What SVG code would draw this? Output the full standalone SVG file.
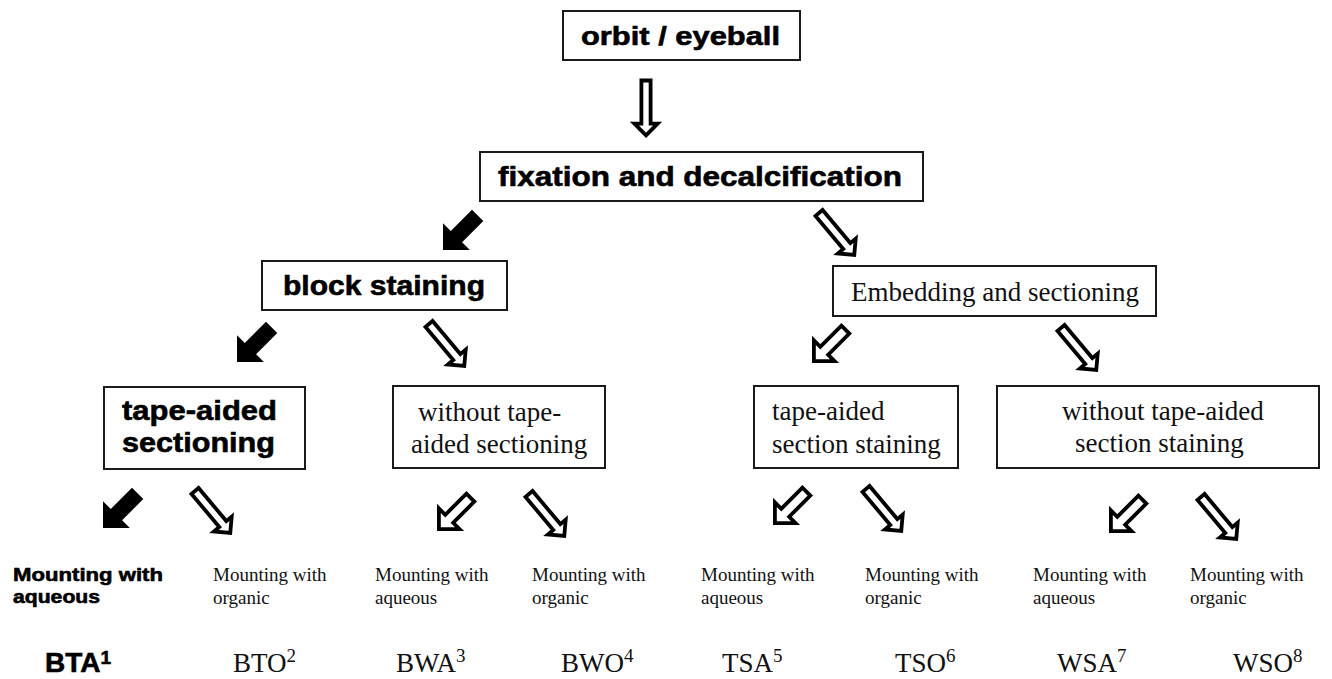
<svg xmlns="http://www.w3.org/2000/svg" xmlns:xlink="http://www.w3.org/1999/xlink" width="1332" height="679" viewBox="0 0 1332 679">
<style>
.box{fill:#fff;stroke:#1a1a1a;stroke-width:2}
.b{font-family:"Liberation Sans",Arial,sans-serif;font-weight:bold;fill:#000;stroke:#000;stroke-width:0.6}
.s{font-family:"Liberation Serif","Times New Roman",serif;fill:#111}
.ao{fill:#fff;stroke:#000;stroke-width:3.8;stroke-linejoin:miter}
.af{fill:#000}
</style>
<defs>
<polygon id="arrLong" class="ao" points="0,-2.7 11.6,-14.3 4.6,-14.3 4.6,-57.5 -4.6,-57.5 -4.6,-14.3 -11.6,-14.3"/>
<polygon id="arrStub" class="ao" points="0,-2.7 14.6,-17.3 5.6,-17.3 5.6,-47.2 -5.6,-47.2 -5.6,-17.3 -14.6,-17.3"/>
<polygon id="arrBlack" class="af" points="0,0 19,-19 8,-19 8,-49 -8,-49 -8,-19 -19,-19"/>
</defs>
<rect width="1332" height="679" fill="#fff"/>
<g id="connectors">
<use xlink:href="#arrLong" href="#arrLong" transform="translate(646,138)"/>
<use xlink:href="#arrBlack" href="#arrBlack" transform="translate(443,250) rotate(45)"/>
<use xlink:href="#arrLong" href="#arrLong" transform="translate(856,257) rotate(-40)"/>
<use xlink:href="#arrBlack" href="#arrBlack" transform="translate(237,362) rotate(45)"/>
<use xlink:href="#arrLong" href="#arrLong" transform="translate(466,368) rotate(-40)"/>
<use xlink:href="#arrStub" href="#arrStub" transform="translate(812,363) rotate(45)"/>
<use xlink:href="#arrLong" href="#arrLong" transform="translate(1098,372) rotate(-40)"/>
<use xlink:href="#arrBlack" href="#arrBlack" transform="translate(103,528) rotate(45)"/>
<use xlink:href="#arrLong" href="#arrLong" transform="translate(232,535) rotate(-40)"/>
<use xlink:href="#arrStub" href="#arrStub" transform="translate(437,531) rotate(45)"/>
<use xlink:href="#arrLong" href="#arrLong" transform="translate(566,538) rotate(-40)"/>
<use xlink:href="#arrStub" href="#arrStub" transform="translate(773,525) rotate(45)"/>
<use xlink:href="#arrLong" href="#arrLong" transform="translate(903,533) rotate(-40)"/>
<use xlink:href="#arrStub" href="#arrStub" transform="translate(1109,533) rotate(45)"/>
<use xlink:href="#arrLong" href="#arrLong" transform="translate(1238,541) rotate(-40)"/>
</g>
<g id="orbit">
<rect class="box" x="563" y="11" width="237" height="49"/>
<text class="b" x="581" y="45" font-size="26" textLength="199" lengthAdjust="spacingAndGlyphs">orbit / eyeball</text>
</g>
<g id="fixation">
<rect class="box" x="480" y="152" width="443" height="49"/>
<text class="b" x="498" y="186" font-size="27" textLength="404" lengthAdjust="spacingAndGlyphs">fixation and decalcification</text>
</g>
<g id="block-staining">
<rect class="box" x="262" y="261" width="245" height="49"/>
<text class="b" x="283" y="295" font-size="27" textLength="202" lengthAdjust="spacingAndGlyphs">block staining</text>
</g>
<g id="embedding">
<rect class="box" x="833" y="266" width="323" height="50"/>
<text class="s" x="851" y="301" font-size="27">Embedding and sectioning</text>
</g>
<g id="tape-aided-sectioning">
<rect class="box" x="104" y="387" width="201" height="82"/>
<text class="b" x="122" y="420" font-size="28" textLength="155" lengthAdjust="spacingAndGlyphs">tape-aided</text>
<text class="b" x="122" y="452" font-size="28" textLength="153" lengthAdjust="spacingAndGlyphs">sectioning</text>
</g>
<g id="without-tape-aided-sectioning">
<rect class="box" x="393" y="386" width="212" height="82"/>
<text class="s" x="418" y="421" font-size="27">without tape-</text>
<text class="s" x="411" y="453" font-size="27">aided sectioning</text>
</g>
<g id="tape-aided-section-staining">
<rect class="box" x="754" y="386" width="204" height="82"/>
<text class="s" x="772" y="420" font-size="27">tape-aided</text>
<text class="s" x="772" y="453" font-size="27">section staining</text>
</g>
<g id="without-tape-aided-section-staining">
<rect class="box" x="997" y="386" width="322" height="82"/>
<text class="s" x="1062" y="420" font-size="27">without tape-aided</text>
<text class="s" x="1075" y="452" font-size="27">section staining</text>
</g>
<g id="mount-1">
<text class="b" x="13" y="581" font-size="19" stroke-width="0.4" textLength="150" lengthAdjust="spacingAndGlyphs">Mounting with</text>
<text class="b" x="13" y="603" font-size="19" stroke-width="0.4" textLength="87" lengthAdjust="spacingAndGlyphs">aqueous</text>
</g>
<g id="mount-2"><text class="s" x="213" y="581" font-size="19">Mounting with</text><text class="s" x="213" y="604" font-size="19">organic</text></g>
<g id="mount-3"><text class="s" x="375" y="581" font-size="19">Mounting with</text><text class="s" x="375" y="604" font-size="19">aqueous</text></g>
<g id="mount-4"><text class="s" x="532" y="581" font-size="19">Mounting with</text><text class="s" x="532" y="604" font-size="19">organic</text></g>
<g id="mount-5"><text class="s" x="701" y="581" font-size="19">Mounting with</text><text class="s" x="701" y="604" font-size="19">aqueous</text></g>
<g id="mount-6"><text class="s" x="865" y="581" font-size="19">Mounting with</text><text class="s" x="865" y="604" font-size="19">organic</text></g>
<g id="mount-7"><text class="s" x="1033" y="581" font-size="19">Mounting with</text><text class="s" x="1033" y="604" font-size="19">aqueous</text></g>
<g id="mount-8"><text class="s" x="1190" y="581" font-size="19">Mounting with</text><text class="s" x="1190" y="604" font-size="19">organic</text></g>
<g id="code-BTA"><text class="b" x="45" y="672" font-size="28" stroke-width="0.5">BTA<tspan font-size="19" dy="-8">1</tspan></text></g>
<g id="code-BTO"><text class="s" x="233" y="672" font-size="27">BTO<tspan font-size="19" dy="-10">2</tspan></text></g>
<g id="code-BWA"><text class="s" x="396" y="672" font-size="27">BWA<tspan font-size="19" dy="-10">3</tspan></text></g>
<g id="code-BWO"><text class="s" x="561" y="672" font-size="27">BWO<tspan font-size="19" dy="-10">4</tspan></text></g>
<g id="code-TSA"><text class="s" x="722" y="672" font-size="27">TSA<tspan font-size="19" dy="-10">5</tspan></text></g>
<g id="code-TSO"><text class="s" x="895" y="672" font-size="27">TSO<tspan font-size="19" dy="-10">6</tspan></text></g>
<g id="code-WSA"><text class="s" x="1057" y="672" font-size="27">WSA<tspan font-size="19" dy="-10">7</tspan></text></g>
<g id="code-WSO"><text class="s" x="1233" y="672" font-size="27">WSO<tspan font-size="19" dy="-10">8</tspan></text></g>
</svg>
